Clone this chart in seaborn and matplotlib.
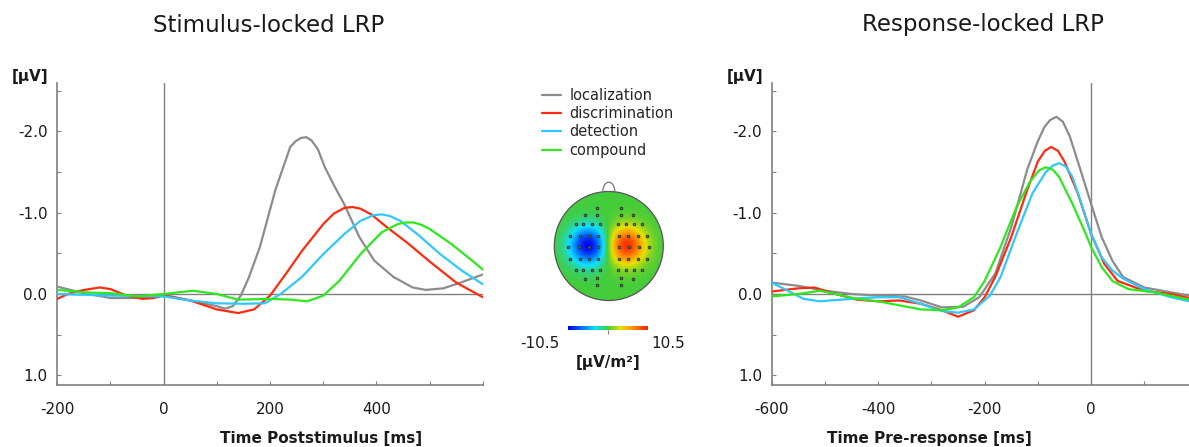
import numpy as np
import pandas as pd
import matplotlib
matplotlib.use("Agg")
import matplotlib.pyplot as plt
from matplotlib.colors import LinearSegmentedColormap
from matplotlib.patches import Circle, Arc
from matplotlib.ticker import MultipleLocator
import seaborn as sns

# ---------------- data ----------------
conditions = ["localization", "discrimination", "detection", "compound"]
colors = ["#8c8c8c", "#ff2a10", "#2ec8ff", "#2ee81e"]

# Stimulus-locked LRP (time in ms, amplitude in µV)
stim_loc_t = [-200, -150, -100, -50, 0, 50, 100, 115, 130, 145, 160, 181, 210, 238, 248, 258, 268, 278, 290, 303, 320, 339, 368, 396, 432, 468, 493, 526, 554, 600]
stim_loc_v = [-0.09, -0.01, 0.05, 0.05, 0.01, 0.08, 0.15, 0.18, 0.15, 0.02, -0.20, -0.58, -1.28, -1.81, -1.88, -1.92, -1.93, -1.89, -1.78, -1.56, -1.34, -1.11, -0.70, -0.41, -0.21, -0.08, -0.05, -0.07, -0.13, -0.24]
stim_dis_t = [-200, -180, -150, -120, -100, -70, -40, -20, 0, 50, 100, 140, 170, 200, 230, 260, 300, 320, 340, 355, 370, 390, 420, 460, 500, 550, 600]
stim_dis_v = [0.06, 0.0, -0.05, -0.08, -0.06, 0.02, 0.06, 0.05, 0.02, 0.08, 0.19, 0.235, 0.19, 0.02, -0.25, -0.53, -0.86, -0.99, -1.06, -1.07, -1.05, -0.98, -0.82, -0.62, -0.40, -0.14, 0.04]
stim_det_t = [-200, -100, 0, 50, 100, 150, 190, 220, 260, 300, 340, 370, 395, 410, 425, 445, 480, 520, 560, 600]
stim_det_v = [0.0, 0.02, 0.03, 0.08, 0.115, 0.12, 0.115, 0.0, -0.21, -0.49, -0.74, -0.90, -0.97, -0.98, -0.96, -0.90, -0.72, -0.49, -0.29, -0.12]
stim_com_t = [-200, -150, -100, -50, 0, 55, 100, 140, 200, 240, 270, 300, 330, 370, 410, 440, 455, 470, 485, 500, 540, 580, 600]
stim_com_v = [-0.05, -0.02, -0.01, 0.03, 0.0, -0.04, 0.0, 0.07, 0.06, 0.07, 0.09, 0.02, -0.16, -0.49, -0.76, -0.86, -0.88, -0.88, -0.85, -0.80, -0.62, -0.41, -0.30]

# Response-locked LRP
resp_loc_t = [-600, -550, -500, -450, -400, -350, -320, -280, -240, -210, -180, -150, -120, -100, -88, -77, -65, -53, -40, -20, 0, 20, 40, 60, 100, 150, 185]
resp_loc_v = [-0.14, -0.10, -0.04, 0.0, 0.02, 0.03, 0.08, 0.165, 0.157, 0.04, -0.25, -0.82, -1.53, -1.88, -2.05, -2.14, -2.18, -2.12, -1.94, -1.53, -1.11, -0.70, -0.41, -0.21, -0.08, -0.02, 0.02]
resp_dis_t = [-600, -550, -520, -480, -440, -400, -360, -320, -280, -250, -220, -200, -180, -150, -120, -100, -87, -75, -62, -50, -25, 0, 25, 50, 100, 150, 185]
resp_dis_v = [-0.03, -0.07, -0.08, 0.0, 0.07, 0.09, 0.08, 0.12, 0.20, 0.28, 0.20, 0.04, -0.21, -0.70, -1.28, -1.63, -1.76, -1.81, -1.76, -1.63, -1.24, -0.74, -0.37, -0.16, -0.04, 0.0, 0.05]
resp_det_t = [-600, -570, -540, -510, -470, -430, -400, -360, -320, -280, -250, -220, -190, -170, -140, -110, -85, -72, -60, -48, -35, -20, 0, 20, 40, 60, 100, 150, 185]
resp_det_v = [-0.14, -0.04, 0.06, 0.09, 0.07, 0.05, 0.04, 0.04, 0.12, 0.21, 0.23, 0.19, 0.02, -0.21, -0.74, -1.24, -1.50, -1.58, -1.61, -1.57, -1.44, -1.15, -0.74, -0.45, -0.29, -0.19, -0.06, 0.04, 0.09]
resp_com_t = [-600, -550, -510, -480, -440, -400, -360, -320, -280, -250, -220, -200, -170, -140, -115, -98, -85, -72, -60, -35, -10, 0, 20, 40, 70, 120, 185]
resp_com_v = [0.03, 0.0, -0.04, 0.0, 0.06, 0.09, 0.14, 0.19, 0.20, 0.165, 0.04, -0.16, -0.58, -1.07, -1.38, -1.52, -1.56, -1.53, -1.44, -1.11, -0.74, -0.58, -0.33, -0.16, -0.06, -0.02, 0.07]

stim_x_ticks = [-200, 0, 200, 400]
resp_x_ticks = [-600, -400, -200, 0]
y_ticks = [-2.0, -1.0, 0.0, 1.0]
y_tick_labels = ["-2.0", "-1.0", "0.0", "1.0"]

# electrode positions (normalised head radius = 1), left hemisphere; right is mirrored
elec_x_left = [-0.22, -0.44, -0.22, -0.60, -0.47, -0.31, -0.16, -0.71, -0.53, -0.36, -0.19,
               -0.74, -0.55, -0.37, -0.19, -0.71, -0.53, -0.36, -0.19, -0.60, -0.47, -0.31, -0.16,
               -0.44, -0.22, -0.22]
elec_y_left = [0.69, 0.56, 0.56, 0.40, 0.40, 0.40, 0.40, 0.19, 0.19, 0.19, 0.19,
               -0.01, -0.01, -0.01, -0.01, -0.23, -0.23, -0.23, -0.23, -0.44, -0.44, -0.44, -0.44,
               -0.61, -0.59, -0.72]
cbar_min, cbar_max = -10.5, 10.5

# ---------------- figure ----------------
sns.set_theme(style="white")
plt.rcParams["font.family"] = ["DejaVu Sans"]
W, H = 1189, 447
fig = plt.figure(figsize=(W / 100, H / 100), dpi=100)

def px(x0, y0, x1, y1):
    return [x0 / W, 1 - y1 / H, (x1 - x0) / W, (y1 - y0) / H]

axis_col = "#808080"
palette = dict(zip(conditions, colors))

def long_df(ts, vs):
    frames = []
    for c, t, v in zip(conditions, ts, vs):
        frames.append(pd.DataFrame({"t": t, "v": v, "cond": c}))
    return pd.concat(frames, ignore_index=True)

def style_axes(ax, xlim, xticks):
    ax.set_xlim(*xlim)
    ax.set_ylim(1.12, -2.60)
    for s in ["top", "right"]:
        ax.spines[s].set_visible(False)
    for s in ["left", "bottom"]:
        ax.spines[s].set_color(axis_col)
        ax.spines[s].set_linewidth(1.2)
    ax.axhline(0, color=axis_col, lw=1.0, zorder=1)
    ax.axvline(0, color=axis_col, lw=1.0, zorder=1)
    ax.set_xticks(xticks)
    ax.set_xticklabels([str(t) for t in xticks])
    ax.xaxis.set_minor_locator(MultipleLocator(100))
    ax.set_yticks(y_ticks)
    ax.set_yticklabels(y_tick_labels)
    ax.yaxis.set_minor_locator(MultipleLocator(0.5))
    ax.tick_params(which="both", direction="in", length=3, width=0.8, color=axis_col,
                   labelsize=11, labelcolor="#1a1a1a", left=True, bottom=True)
    ax.tick_params(axis="x", which="both", pad=12)
    ax.tick_params(axis="y", which="both", pad=7)
    ax.set_xlabel("")
    ax.set_ylabel("")
    ax.set_facecolor("white")

# left panel
ax1 = fig.add_axes(px(57.3, 82.7, 482.8, 385))
df1 = long_df([stim_loc_t, stim_dis_t, stim_det_t, stim_com_t],
              [stim_loc_v, stim_dis_v, stim_det_v, stim_com_v])
sns.lineplot(data=df1, x="t", y="v", hue="cond", palette=palette, hue_order=conditions,
             lw=1.6, ax=ax1, legend=False, zorder=3, sort=True, estimator=None)
style_axes(ax1, (-200, 600), stim_x_ticks)

# right panel
ax2 = fig.add_axes(px(771.7, 82.7, 1189, 385))
df2 = long_df([resp_loc_t, resp_dis_t, resp_det_t, resp_com_t],
              [resp_loc_v, resp_dis_v, resp_det_v, resp_com_v])
sns.lineplot(data=df2, x="t", y="v", hue="cond", palette=palette, hue_order=conditions,
             lw=1.6, ax=ax2, legend=False, zorder=3, sort=True, estimator=None)
style_axes(ax2, (-600, 184), resp_x_ticks)

# titles and labels
fig.text(269 / W, 1 - 25 / H, "Stimulus-locked LRP", ha="center", va="center", fontsize=16.5, color="#1a1a1a")
fig.text(983 / W, 1 - 25 / H, "Response-locked LRP", ha="center", va="center", fontsize=16.5, color="#1a1a1a")
fig.text(321 / W, 1 - 439 / H, "Time Poststimulus [ms]", ha="center", va="center", fontsize=11, fontweight="bold", color="#1a1a1a")
fig.text(929 / W, 1 - 439 / H, "Time Pre-response [ms]", ha="center", va="center", fontsize=11, fontweight="bold", color="#1a1a1a")
fig.text(30 / W, 1 - 76 / H, "[µV]", ha="center", va="center", fontsize=11, fontweight="bold", color="#1a1a1a")
fig.text(745 / W, 1 - 76 / H, "[µV]", ha="center", va="center", fontsize=11, fontweight="bold", color="#1a1a1a")

# legend
handles = [plt.Line2D([], [], color=c, lw=1.6) for c in colors]
fig.legend(handles, conditions, loc="upper left", bbox_to_anchor=(541.7 / W, 1 - 88 / H),
           frameon=False, fontsize=10.5, handlelength=1.3, handletextpad=0.6,
           labelspacing=0.22, borderpad=0, borderaxespad=0)

# topomap
cmap = LinearSegmentedColormap.from_list(
    "topo", [(0, "#0000f0"), (0.18, "#0078ff"), (0.34, "#10e0ff"), (0.5, "#44cc3a"),
             (0.66, "#e8e000"), (0.82, "#ff8a00"), (1, "#ff1e00")])
R = 54.5
cx, cy = 608.8, 246.0
axt = fig.add_axes(px(cx - 1.25 * R, cy - 1.25 * R, cx + 1.25 * R, cy + 1.25 * R))
axt.set_xlim(-1.25, 1.25)
axt.set_ylim(-1.25, 1.25)
axt.axis("off")
g = np.linspace(-1, 1, 300)
X, Y = np.meshgrid(g, g)
sig = 0.24
Z = (-np.exp(-((X + 0.37) ** 2 + Y ** 2) / (2 * sig ** 2))
     + 0.95 * np.exp(-((X - 0.33) ** 2 + Y ** 2) / (2 * sig ** 2))) * cbar_max
im = axt.imshow(Z, extent=(-1, 1, -1, 1), origin="lower", cmap=cmap,
                vmin=cbar_min, vmax=cbar_max, interpolation="bilinear")
head = Circle((0, 0), 1.0, transform=axt.transData, facecolor="none", edgecolor="#555555", lw=0.9)
im.set_clip_path(head)
axt.add_patch(head)
axt.add_patch(Arc((0, 1.0), 0.22, 0.34, theta1=0, theta2=180, color="#777777", lw=0.9))
ex = np.array(elec_x_left + [-v for v in elec_x_left])
ey = np.array(elec_y_left + elec_y_left)
axt.scatter(ex, ey, s=4, facecolor="#5a7a50", edgecolor="#222222", linewidths=0.5, zorder=5)

# colorbar
axc = fig.add_axes(px(568.3, 326.0, 648.3, 330.0))
axc.imshow(np.linspace(cbar_min, cbar_max, 256)[None, :], aspect="auto", cmap=cmap,
           vmin=cbar_min, vmax=cbar_max, extent=(cbar_min, cbar_max, 0, 1))
axc.set_xlim(cbar_min, cbar_max)
axc.set_xticks([0])
axc.set_xticklabels([""])
axc.set_yticks([])
axc.tick_params(axis="x", length=3, width=0.8, color=axis_col, bottom=True)
for s in axc.spines.values():
    s.set_visible(False)
fig.text(540 / W, 1 - 343 / H, f"{cbar_min}", ha="center", va="center", fontsize=11, color="#1a1a1a")
fig.text(668 / W, 1 - 343 / H, f"{cbar_max}", ha="center", va="center", fontsize=11, color="#1a1a1a")
fig.text(608 / W, 1 - 362 / H, "[µV/m²]", ha="center", va="center", fontsize=11, fontweight="bold", color="#1a1a1a")

fig.savefig("out.png", dpi=100, facecolor="white")
